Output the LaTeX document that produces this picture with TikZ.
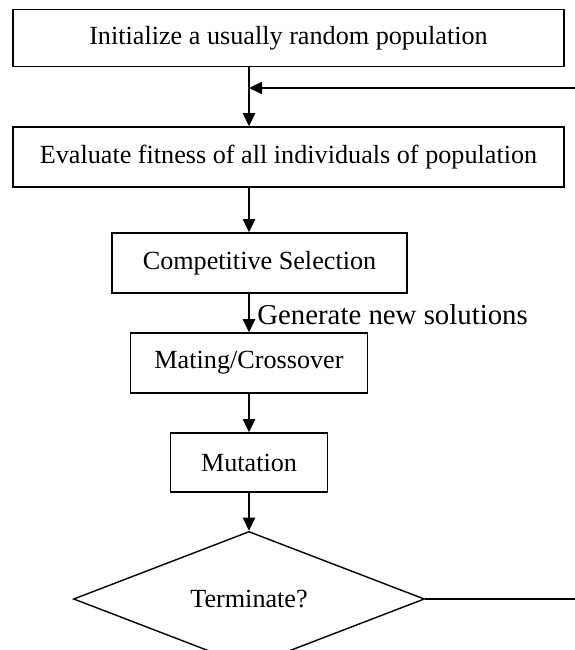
\documentclass[tikz,border=0pt]{standalone}
\usepackage{fontspec}
\setmainfont{Liberation Serif}
\usetikzlibrary{arrows.meta, shapes.geometric}

\begin{document}
\begin{tikzpicture}[
  font=\fontsize{14.9}{17}\selectfont,
  stepbox/.style={draw, line width=0.8pt, inner sep=0pt, minimum height=1.2cm},
  decide/.style={draw, diamond, line width=0.8pt, inner sep=0pt,
    minimum width=7.02cm, minimum height=1.94cm},
  flow/.style={line width=0.8pt, -{Triangle[length=7.5pt, width=7pt]}},
  plain/.style={line width=0.8pt},
  note/.style={font=\fontsize{16.4}{19}\selectfont},
]
\useasboundingbox (0,0) rectangle (11.5,-13);

% ---------- STEPS ----------
\node[stepbox, minimum width=11.02cm, minimum height=1.14cm] (init) at (5.77,-0.76)
  {Initialize a usually random population};
\node[stepbox, minimum width=11.02cm] (eval) at (5.77,-3.14)
  {Evaluate fitness of all individuals of population};
\node[stepbox, minimum width=5.9cm] (select) at (5.19,-5.26) {Competitive Selection};
\node[stepbox, minimum width=4.74cm] (mate) at (4.98,-7.26) {Mating/Crossover};
\node[stepbox, minimum width=3.14cm, minimum height=1.18cm] (mutate) at (4.98,-9.25) {Mutation};
\node[decide] (stop) at (4.98,-11.98) {Terminate?};

% ---------- LOOP ENDS ----------
\coordinate (loopin) at (11.5,-1.76);
\coordinate (loopout) at (11.5,-11.98);

% ---------- FLOW ARROWS ----------
\draw[flow] (init.south -| mate.north) -- (eval.north -| mate.north);
\draw[flow] (loopin) -- (loopin -| mate.north);
\draw[flow] (eval.south -| mate.north) -- (select.north -| mate.north);
\draw[flow] (select.south -| mate.north) -- (mate.north)
  node[midway, note, anchor=west, xshift=1pt, yshift=-1pt] (gen) {Generate new solutions};
\draw[flow] (mate) -- (mutate);
\draw[flow] (mutate) -- (stop);
\draw[plain] (stop.east) -- (loopout);

\end{tikzpicture}
\end{document}
